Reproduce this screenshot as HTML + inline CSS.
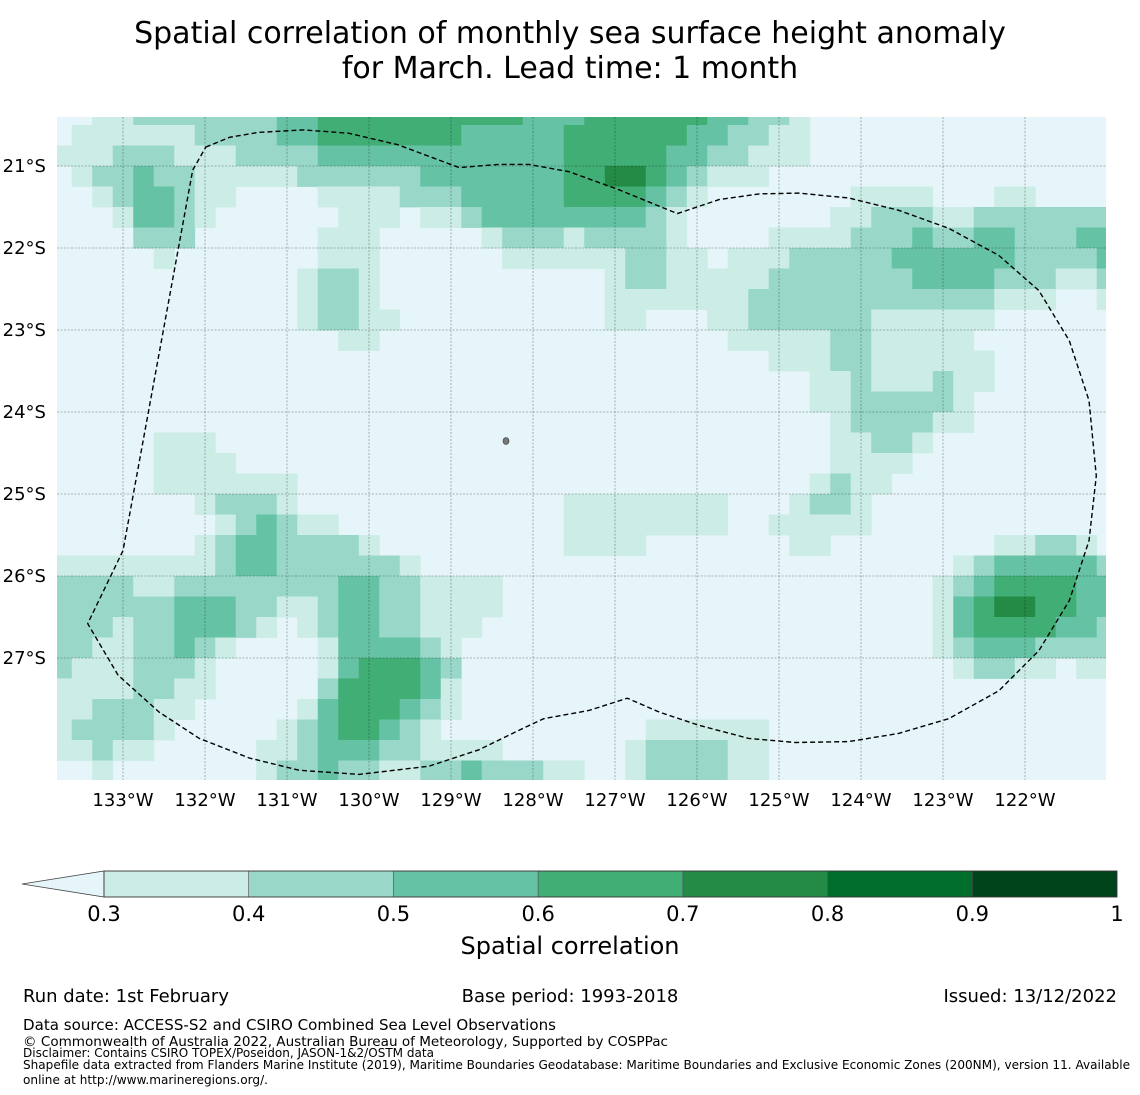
<!DOCTYPE html>
<html><head><meta charset="utf-8">
<style>
body{margin:0;background:#fff;}
svg{display:block;font-family:"DejaVu Sans","Liberation Sans",sans-serif;}
</style></head>
<body>
<svg id="chart" width="1140" height="1095" viewBox="0 0 1140 1095" xmlns="http://www.w3.org/2000/svg">
<text x="570" y="43" text-anchor="middle" font-size="30">Spatial correlation of monthly sea surface height anomaly</text>
<text x="570" y="78" text-anchor="middle" font-size="30">for March. Lead time: 1 month</text>
<defs><clipPath id="mapclip"><rect x="57" y="117" width="1049" height="663"/></clipPath></defs>
<g id="map" clip-path="url(#mapclip)"></g>
<g id="axes"></g>
<g id="cbar"></g>
<text x="570" y="954" text-anchor="middle" font-size="24">Spatial correlation</text>
<text x="23" y="1002" font-size="18">Run date: 1st February</text>
<text x="570" y="1002" text-anchor="middle" font-size="18">Base period: 1993-2018</text>
<text x="1117" y="1002" text-anchor="end" font-size="18">Issued: 13/12/2022</text>
<text x="23" y="1030" font-size="15" textLength="533" lengthAdjust="spacingAndGlyphs">Data source: ACCESS-S2 and CSIRO Combined Sea Level Observations</text>
<text x="23" y="1046" font-size="13.5" textLength="645" lengthAdjust="spacingAndGlyphs">© Commonwealth of Australia 2022, Australian Bureau of Meteorology, Supported by COSPPac</text>
<text x="23" y="1057" font-size="12" textLength="411" lengthAdjust="spacingAndGlyphs">Disclaimer: Contains CSIRO TOPEX/Poseidon, JASON-1&amp;2/OSTM data</text>
<text x="23" y="1069" font-size="12" textLength="1107" lengthAdjust="spacingAndGlyphs">Shapefile data extracted from Flanders Marine Institute (2019), Maritime Boundaries Geodatabase: Maritime Boundaries and Exclusive Economic Zones (200NM), version 11. Available</text>
<text x="23" y="1084" font-size="12" textLength="245" lengthAdjust="spacingAndGlyphs">online at http://www.marineregions.org/.</text>
</svg>
<script>
// ---- data ----
const levelColors = ["#e5f5f9","#ccece6","#99d8c9","#66c2a4","#41ae76","#238b45","#006d2c","#00441b"];
const levelBounds = [0.3,0.4,0.5,0.6,0.7,0.8,0.9,1];
const lonTicks = [-133,-132,-131,-130,-129,-128,-127,-126,-125,-124,-123,-122];
const latTicks = [-21,-22,-23,-24,-25,-26,-27];
const cbarTickLabels = ["0.3","0.4","0.5","0.6","0.7","0.8","0.9","1"];
const firstLonCenter = -133.75;
const firstLatCenter = -20.375;
const cellStep = 0.25;
const cellLevels = [
"0011222222"+"2334444444"+"4443334444"+"4433221000"+"000000000000",
"0111111222"+"2334444444"+"3333344444"+"4332211000"+"000000000000",
"1112221112"+"2223333333"+"3333344444"+"3322111000"+"000000000000",
"0122322111"+"1122222233"+"3333344554"+"3211100000"+"000000000000",
"0012332110"+"0001111222"+"3333344443"+"2100000001"+"111000110000",
"0001332100"+"0000111011"+"2333333332"+"1000000011"+"222112222222",
"0000222000"+"0001110000"+"0122212222"+"1000011112"+"223223322233",
"0000010000"+"0001110000"+"0011111122"+"1101112222"+"233333322223",
"0000000000"+"0012210000"+"0000000122"+"1111122222"+"223333222112",
"0000000000"+"0012210000"+"0000000111"+"1111222222"+"222222111001",
"0000000000"+"0012211000"+"0000000110"+"0011222222"+"111111000000",
"0000000000"+"0000110000"+"0000000000"+"0001111122"+"111110000000",
"0000000000"+"0000000000"+"0000000000"+"0000011122"+"111111000000",
"0000000000"+"0000000000"+"0000000000"+"0000000112"+"111211000000",
"0000000000"+"0000000000"+"0000000000"+"0000000112"+"222210000000",
"0000000000"+"0000000000"+"0000000000"+"0000000012"+"222110000000",
"0000011100"+"0000000000"+"0000000000"+"0000000011"+"221000000000",
"0000011110"+"0000000000"+"0000000000"+"0000000011"+"110000000000",
"0000011111"+"1100000000"+"0000000000"+"0000000121"+"100000000000",
"0000000122"+"2100000000"+"0000011111"+"1110001221"+"000000000000",
"0000000012"+"3211000000"+"0000011111"+"1110011111"+"000000000000",
"0000000123"+"3222210000"+"0000011110"+"0000001100"+"000000112210",
"1111111123"+"3222222100"+"0000000000"+"0000000000"+"000012333332",
"2222112222"+"2222332211"+"1100000000"+"0000000000"+"000123444433",
"2222223332"+"2112332211"+"1100000000"+"0000000000"+"000134554433",
"2221223332"+"1012332211"+"1000000000"+"0000000000"+"000134444332",
"2211223210"+"0001333321"+"0000000000"+"0000000000"+"000123332222",
"2111222100"+"0001344432"+"0000000000"+"0000000000"+"000012211011",
"1111221100"+"0002444431"+"0000000000"+"0000000000"+"000000000000",
"1122211000"+"0013444321"+"0000000000"+"0000000000"+"000000000000",
"1222210000"+"0123443210"+"0000000001"+"1111100000"+"000000000000",
"1121100000"+"1123332211"+"1100000012"+"2221100000"+"000000000000",
"0010000000"+"1223221122"+"3222110012"+"2221100000"+"000000000000"
];
// EEZ boundary vertices (lon, lat)
const boundaryLon = [-131.99,-131.7,-131.35,-130.8,-130.25,-129.65,-128.9,-128.42,-128.05,-127.56,-126.95,-126.24,-125.73,-125.24,-124.76,-124.15,-123.54,-122.93,-122.32,-121.83,-121.46,-121.22,-121.13,-121.22,-121.46,-121.83,-122.32,-122.93,-123.54,-124.15,-124.8,-125.37,-125.98,-126.46,-126.85,-127.32,-127.87,-128.17,-128.66,-129.27,-130.12,-130.85,-131.46,-132.07,-132.56,-133.06,-133.43,-133.0,-132.15];
const boundaryLat = [-20.77,-20.65,-20.59,-20.56,-20.6,-20.74,-21.02,-20.98,-20.98,-21.07,-21.29,-21.58,-21.41,-21.34,-21.33,-21.39,-21.54,-21.76,-22.09,-22.52,-23.13,-23.86,-24.78,-25.57,-26.3,-26.91,-27.4,-27.74,-27.92,-28.02,-28.03,-27.98,-27.82,-27.66,-27.49,-27.64,-27.74,-27.88,-28.12,-28.32,-28.42,-28.37,-28.22,-27.98,-27.66,-27.21,-26.58,-25.69,-21.05];

// ---- scales ----
const NS = "http://www.w3.org/2000/svg";
const xOf = lon => 123 + (lon + 133) * 82;
const yOf = lat => 166 + (-21 - lat) * 82;
function mk(tag, attrs, parent){const e=document.createElementNS(NS,tag);for(const k in attrs)e.setAttribute(k,attrs[k]);parent.appendChild(e);return e;}

const map = document.getElementById('map');
const axes = document.getElementById('axes');
mk('rect',{x:57,y:117,width:1049,height:663,fill:levelColors[0]},map);
cellLevels.forEach((row, r) => {
  const lat = firstLatCenter - r * cellStep;
  for (let c = 0; c < row.length; c++) {
    const lv = +row[c];
    if (lv === 0) continue;
    const lon = firstLonCenter + c * cellStep;
    const x0 = xOf(lon - cellStep/2), x1 = xOf(lon + cellStep/2);
    const y0 = yOf(lat + cellStep/2), y1 = yOf(lat - cellStep/2);
    const cell = mk('rect',{x:x0,y:y0,width:x1-x0+0.4,height:y1-y0+0.4,fill:levelColors[lv]},map);
    
    
  }
});
// gridlines
lonTicks.forEach(lon => {
  const g = mk('line',{x1:xOf(lon),x2:xOf(lon),y1:117,y2:780,stroke:'#000','stroke-opacity':0.35,'stroke-width':0.8,'stroke-dasharray':'2,1.5'},map);
  
  
  const t = mk('text',{x:xOf(lon),y:806,'text-anchor':'middle','font-size':18},axes);
  t.textContent = Math.abs(lon) + '°W';
  
  
});
latTicks.forEach(lat => {
  const g = mk('line',{x1:57,x2:1106,y1:yOf(lat),y2:yOf(lat),stroke:'#000','stroke-opacity':0.35,'stroke-width':0.8,'stroke-dasharray':'2,1.5'},map);
  
  
  const t = mk('text',{x:46,y:yOf(lat)+6,'text-anchor':'end','font-size':18},axes);
  t.textContent = Math.abs(lat) + '°S';
  
  
});
// boundary
const pts = boundaryLon.map((lon,i)=>xOf(lon).toFixed(1)+','+yOf(boundaryLat[i]).toFixed(1)).join(' ');
const poly = mk('polygon',{points:pts,fill:'none',stroke:'#000','stroke-width':1.4,'stroke-dasharray':'5,3'},map);


const isl = mk('ellipse',{cx:506,cy:441,rx:3,ry:3.5,fill:'#777',stroke:'#333','stroke-width':0.6},map);



// colorbar
const cbar = document.getElementById('cbar');
const cbX0 = 104, cbX1 = 1117, cbY = 871, cbH = 26;
const cbx = v => cbX0 + (v - levelBounds[0]) / (levelBounds[levelBounds.length-1] - levelBounds[0]) * (cbX1 - cbX0);
const tri = mk('polygon',{points:`22,${cbY+cbH/2} ${cbX0},${cbY} ${cbX0},${cbY+cbH}`,fill:levelColors[0],stroke:'#444','stroke-width':0.8},cbar);


for (let i = 0; i < levelBounds.length - 1; i++) {
  const seg = mk('rect',{x:cbx(levelBounds[i]),y:cbY,width:cbx(levelBounds[i+1])-cbx(levelBounds[i]),height:cbH,fill:levelColors[i+1],stroke:'#555','stroke-width':0.6},cbar);
  
  
}
mk('rect',{x:cbX0,y:cbY,width:cbX1-cbX0,height:cbH,fill:'none',stroke:'#333','stroke-width':0.8},cbar);
levelBounds.forEach((v,i) => {
  const t = mk('text',{x:cbx(v),y:921,'text-anchor':'middle','font-size':21},cbar);
  t.textContent = cbarTickLabels[i];
  
  
});
</script>
</body></html>
